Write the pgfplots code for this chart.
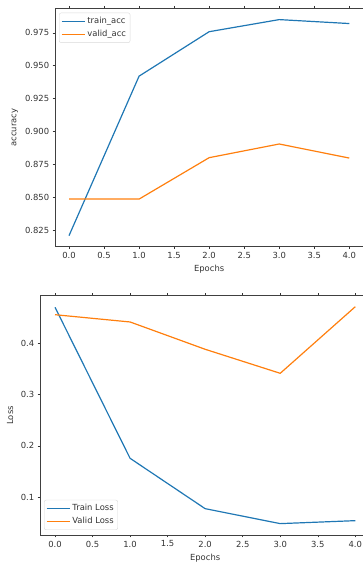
\documentclass[border=0pt]{standalone}
\usepackage{fontspec}
\setmainfont{DejaVu Sans}
\usepackage{pgfplots}
\pgfplotsset{compat=1.18}
\definecolor{tabblue}{HTML}{1F77B4}
\definecolor{taborange}{HTML}{FF7F0E}
\newcommand{\mplfont}{\fontsize{8.4}{10}\selectfont}
\pgfplotsset{
  mpl/.style={
    scale only axis,
    xmin=-0.2, xmax=4.2,
    tick align=outside,
    major tick length=2.3pt,
    tick style={black!80, line width=0.5pt},
    axis line style={black!75, line width=0.6pt},
    xtick={0,0.5,1,1.5,2,2.5,3,3.5,4},
    scaled ticks=false,
    xticklabel style={/pgf/number format/.cd, fixed, fixed zerofill, precision=1, assume math mode=true},
    ticklabel style={font=\mplfont, text=black!80},
    label style={font=\mplfont, text=black!80},
    xlabel={Epochs},
    every axis plot/.append style={line width=1.2pt},
    legend cell align=left,
    legend image code/.code={\path (0pt,0pt) -- (23pt,0pt);\draw[##1, line width=1.2pt] (0pt,0pt) -- (18pt,0pt);},
    legend style={font=\mplfont, draw=black!15, rounded corners=2pt, fill=white, text=black!80,
      inner xsep=2pt, inner ysep=2.5pt, row sep=1pt},
  }
}
\begin{document}
\begin{tikzpicture}
\useasboundingbox (0,0) rectangle (362pt,564pt);
% top: accuracy
\begin{axis}[mpl,
  at={(55pt,317.3pt)}, anchor=south west,
  width=308.3pt, height=238.4pt,
  ymin=0.8123, ymax=0.9936,
  ytick={0.825,0.850,0.875,0.900,0.925,0.950,0.975},
  yticklabel style={/pgf/number format/.cd, fixed, fixed zerofill, precision=3, assume math mode=true},
  ylabel={accuracy},
  ylabel style={at={(axis description cs:-0.1297,0.5)}, anchor=center},
  xlabel style={at={(axis description cs:0.5,-0.0923)}, anchor=center},
  legend style={at={(axis description cs:0,1)}, anchor=north west, xshift=4pt, yshift=-4.4pt},
]
\addplot[tabblue] coordinates {(0,0.8207) (1,0.9420) (2,0.9758) (3,0.9850) (4,0.9820)};
\addlegendentry{train\_acc}
\addplot[taborange] coordinates {(0,0.8485) (1,0.8485) (2,0.8800) (3,0.8904) (4,0.8797)};
\addlegendentry{valid\_acc}
\end{axis}
% bottom: loss
\begin{axis}[mpl,
  at={(40pt,29pt)}, anchor=south west,
  width=330.3pt, height=239.3pt,
  ymin=0.0258, ymax=0.4929,
  ytick={0.1,0.2,0.3,0.4},
  yticklabel style={/pgf/number format/.cd, fixed, fixed zerofill, precision=1, assume math mode=true},
  ylabel={Loss},
  ylabel style={at={(axis description cs:-0.0908,0.5)}, anchor=center},
  xlabel style={at={(axis description cs:0.5,-0.0974)}, anchor=center},
  legend style={at={(axis description cs:0,0)}, anchor=south west, xshift=4pt, yshift=5pt},
]
\addplot[tabblue] coordinates {(0,0.4703) (1,0.1755) (2,0.0772) (3,0.0480) (4,0.0538)};
\addlegendentry{Train Loss}
\addplot[taborange] coordinates {(0,0.4558) (1,0.4416) (2,0.3883) (3,0.3414) (4,0.4714)};
\addlegendentry{Valid Loss}
\end{axis}
\end{tikzpicture}
\end{document}
